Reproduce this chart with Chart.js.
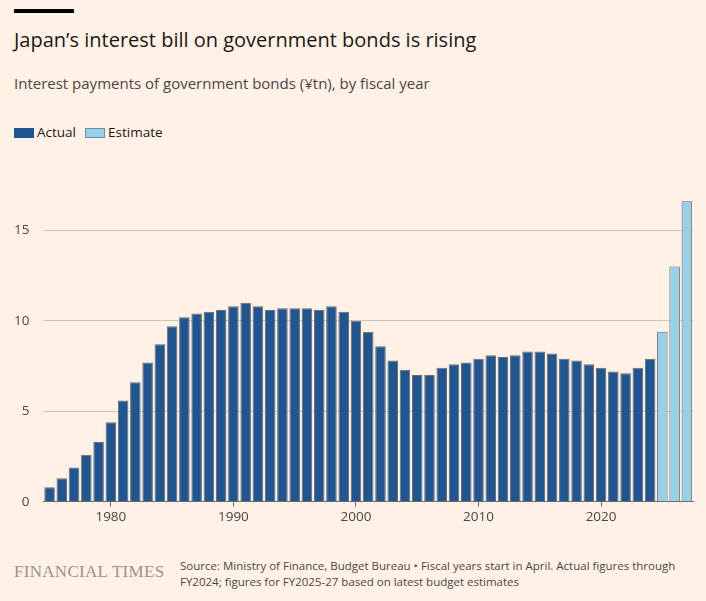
<!DOCTYPE html>
<html><head><meta charset="utf-8">
<script src="https://cdn.jsdelivr.net/npm/chart.js@4"></script>
<style>
body{margin:0;background:#fff1e5;width:706px;height:601px;position:relative;font-family:"Open Sans",sans-serif;color:#33302e;overflow:hidden}
.t{position:absolute;white-space:nowrap}
#cv{position:absolute;left:0;top:172px}
</style></head><body>
<div class="t" style="left:14px;top:9px;width:60px;height:4px;background:#000"></div>
<div class="t" style="left:14px;top:26px;font-size:20px;color:#1a1817">Japan’s interest bill on government bonds is rising</div>
<div class="t" style="left:14px;top:73px;font-size:15px;color:#4a4642">Interest payments of government bonds (¥tn), by fiscal year</div>
<div class="t" style="left:14px;top:123px;font-size:13.5px;color:#1a1817"><span style="display:inline-block;width:20px;height:10px;background:#1f5590;vertical-align:-1px;margin-right:3px"></span>Actual<span style="display:inline-block;width:20px;height:10px;background:#96d1e8;border:1px solid #6e8fa0;box-sizing:border-box;vertical-align:-1px;margin:0 3px 0 9px"></span>Estimate</div>
<div class="t" style="left:14px;top:562px;font-family:'Liberation Serif',serif;font-size:17px;color:#9a928a;letter-spacing:0.3px">FINANCIAL TIMES</div>
<div class="t" style="left:180px;top:558px;font-size:11.5px;line-height:16px;color:#4a4642">Source: Ministry of Finance, Budget Bureau • Fiscal years start in April. Actual figures through<br>FY2024; figures for FY2025-27 based on latest budget estimates</div>
<canvas id="cv" width="706" height="355"></canvas>
<script>
const years=[];for(let y=1975;y<=2027;y++)years.push(String(y));
const values=[0.8,1.3,1.9,2.6,3.3,4.4,5.6,6.6,7.7,8.7,9.7,10.2,10.4,10.5,10.6,10.8,11.0,10.8,10.6,10.7,10.7,10.7,10.6,10.8,10.5,10.0,9.4,8.6,7.8,7.3,7.0,7.0,7.4,7.6,7.7,7.9,8.1,8.0,8.1,8.3,8.3,8.2,7.9,7.8,7.6,7.4,7.2,7.1,7.4,7.9,9.4,13.0,16.6];
const firstEstimate=2025;
const yTicks=[0,5,10,15];
const colors=years.map(y=>+y>=firstEstimate?'#96d1e8':'#1f5590');
new Chart(document.getElementById('cv'),{type:'bar',
data:{labels:years,datasets:[{data:values,backgroundColor:colors,borderColor:'#6b6b6b',borderWidth:1,categoryPercentage:1,barPercentage:0.86}]},
options:{responsive:false,animation:false,layout:{padding:{left:0,right:13,top:0,bottom:0}},
plugins:{legend:{display:false},tooltip:{enabled:false}},
scales:{
x:{grid:{offset:false,drawOnChartArea:false,tickLength:5,color:(c)=>{const l=years[c.index];return l&&+l%10===0?'#6b6b6b':'rgba(0,0,0,0)'}},border:{color:'#6b6b6b'},
ticks:{autoSkip:false,maxRotation:0,font:{family:'Open Sans',size:13.5},color:'#4a4642',padding:2,callback:(v,i)=>+years[i]%10===0?years[i]:''}},
y:{min:0,max:17,afterBuildTicks:a=>{a.ticks=yTicks.map(v=>({value:v}))},grid:{color:c=>c.tick&&c.tick.value===0?'rgba(0,0,0,0)':'#cfc4b9',drawTicks:false},border:{display:false},
ticks:{font:{family:'Open Sans',size:13.5},color:'#4a4642',padding:14}}
}}});
</script></body></html>
